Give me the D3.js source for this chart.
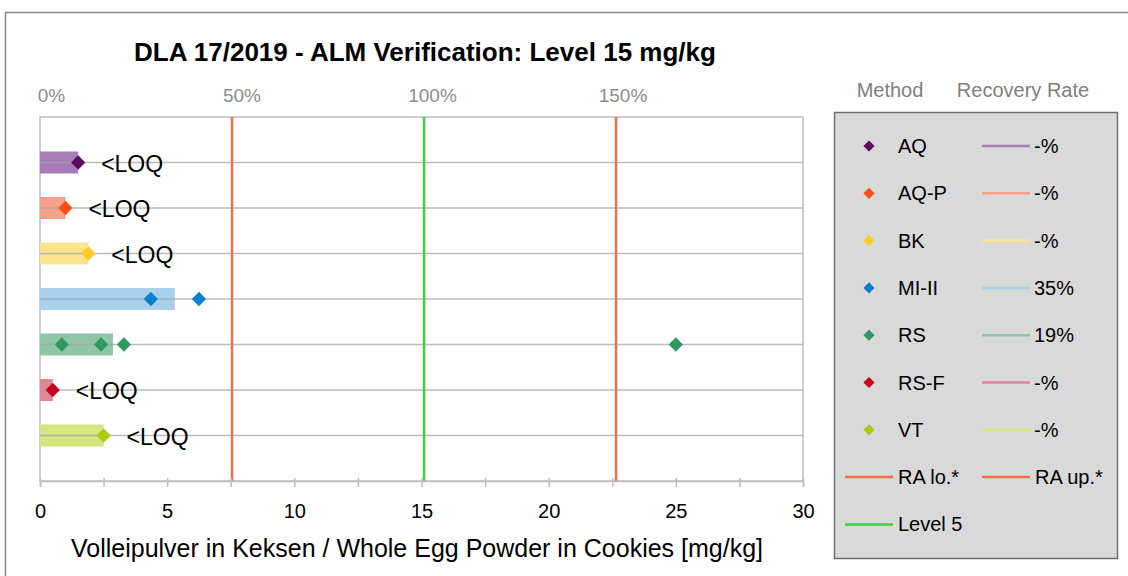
<!DOCTYPE html>
<html>
<head>
<meta charset="utf-8">
<script src="https://cdn.jsdelivr.net/npm/d3@7"></script>
<style>
  body { margin: 0; background: #fff; }
  svg { font-family: "Liberation Sans", Arial, sans-serif; display: block; }
</style>
</head>
<body>
<div id="chart"></div>
<script>
var methods = ['AQ', 'AQ-P', 'BK', 'MI-II', 'RS', 'RS-F', 'VT'];
var medians = [1.5, 1.0, 1.9, 5.3, 2.87, 0.5, 2.5];
var results = [[1.5], [1.0], [1.9], [4.36, 6.25], [0.86, 2.4, 3.3, 25.0], [0.5], [2.5]];
var loqLabels = ['<LOQ', '<LOQ', '<LOQ', '', '', '<LOQ', '<LOQ'];
var recovery = ['-%', '-%', '-%', '35%', '19%', '-%', '-%'];
var barColors = ['#a87cb6', '#f9a088', '#fde290', '#a8d0ec', '#8fc6a6', '#df8792', '#d4e67e'];
var markColors = ['#5e0c61', '#fb4f14', '#ffcb2b', '#0b80d1', '#2f9a63', '#c8021f', '#a9cd13'];

var level = 15.1;
var raLow = 7.55;
var raUp = 22.65;
var pctTicks = [0, 50, 100, 150];
var xTicks = [0, 2.5, 5, 7.5, 10, 12.5, 15, 17.5, 20, 22.5, 25, 27.5, 30];
var xLabels = [0, 5, 10, 15, 20, 25, 30];

var width = 1128, height = 576;
var plot = {left: 40, right: 803, top: 117, bottom: 481};

var svg = d3.select('#chart')
	.append('svg')
	.attr('width', width)
	.attr('height', height);

// outer frame (right and bottom edges run off the picture)
svg.append('rect')
	.attr('x', 5.5).attr('y', 12.5)
	.attr('width', 1200).attr('height', 700)
	.attr('fill', 'none')
	.attr('stroke', '#8a8a8a')
	.attr('stroke-width', 1.5);

svg.append('text')
	.attr('x', 425).attr('y', 61)
	.attr('text-anchor', 'middle')
	.attr('font-size', 26).attr('font-weight', 'bold')
	.attr('fill', '#000')
	.text('DLA 17/2019 - ALM Verification: Level 15 mg/kg');

// scales
var x = d3.scaleLinear().domain([0, 30]).range([plot.left, plot.right]);
var y = d3.scalePoint().domain(methods).range([plot.top, plot.bottom]).padding(1);
var pct = d3.scaleLinear().domain([0, 200]).range([plot.left + 11, plot.right + 10]);

// plot frame
svg.append('rect')
	.attr('x', plot.left).attr('y', plot.top)
	.attr('width', plot.right - plot.left).attr('height', plot.bottom - plot.top)
	.attr('fill', 'none')
	.attr('stroke', '#bfbfbf')
	.attr('stroke-width', 1.5);

// bars (median)
svg.append('g')
	.selectAll('rect')
	.data(methods)
	.enter()
	.append('rect')
	.attr('x', x(0))
	.attr('y', function(d){ return y(d) - 11; })
	.attr('width', function(d, i){ return x(medians[i]) - x(0); })
	.attr('height', 22)
	.attr('fill', function(d, i){ return barColors[i]; });

// row lines
svg.append('g')
	.selectAll('line')
	.data(methods)
	.enter()
	.append('line')
	.attr('x1', plot.left).attr('x2', plot.right)
	.attr('y1', function(d){ return y(d); })
	.attr('y2', function(d){ return y(d); })
	.attr('stroke', '#a6a6a6')
	.attr('stroke-opacity', 0.75)
	.attr('stroke-width', 1.5);

// reference lines
var refs = [[raLow, '#f26f48'], [level, '#3fcf3f'], [raUp, '#f26f48']];
svg.append('g')
	.selectAll('line')
	.data(refs)
	.enter()
	.append('line')
	.attr('x1', function(d){ return x(d[0]); })
	.attr('x2', function(d){ return x(d[0]); })
	.attr('y1', plot.top).attr('y2', plot.bottom)
	.attr('stroke', function(d){ return d[1]; })
	.attr('stroke-width', 2.5);

// bottom axis
var xAxis = d3.axisBottom(x)
	.tickValues(xTicks)
	.tickSize(6)
	.tickFormat(function(d){ return xLabels.indexOf(d) >= 0 ? d : ''; });

var gx = svg.append('g')
	.attr('transform', 'translate(0,' + plot.bottom + ')')
	.call(xAxis);
gx.select('.domain').attr('stroke', '#bfbfbf').attr('stroke-width', 1.5);
gx.selectAll('.tick line').attr('stroke', '#bfbfbf').attr('stroke-width', 1.5).attr('y1', -3);
gx.selectAll('.tick text')
	.attr('font-family', '"Liberation Sans", Arial, sans-serif')
	.attr('font-size', 20).attr('fill', '#000').attr('dy', null).attr('y', 37);

svg.append('text')
	.attr('x', 417).attr('y', 557)
	.attr('text-anchor', 'middle')
	.attr('font-size', 25)
	.attr('fill', '#000')
	.text('Volleipulver in Keksen / Whole Egg Powder in Cookies [mg/kg]');

// top percent axis
var pctAxis = d3.axisTop(pct)
	.tickValues(pctTicks)
	.tickSize(0)
	.tickFormat(function(d){ return d + '%'; });
var gp = svg.append('g')
	.attr('transform', 'translate(0,102)')
	.call(pctAxis);
gp.select('.domain').remove();
gp.selectAll('.tick text')
	.attr('font-family', '"Liberation Sans", Arial, sans-serif')
	.attr('font-size', 19).attr('fill', '#8c8c8c').attr('y', 0).attr('dy', null);

// result markers
var points = [];
results.forEach(function(vals, i){
	vals.forEach(function(v){ points.push({m: methods[i], v: v, i: i}); });
});
var diamond = d3.symbol().type(d3.symbolDiamond2).size(130);
svg.append('g')
	.selectAll('path')
	.data(points)
	.enter()
	.append('path')
	.attr('d', diamond)
	.attr('transform', function(d){ return 'translate(' + x(d.v) + ',' + y(d.m) + ')'; })
	.attr('fill', function(d){ return markColors[d.i]; });

// <LOQ labels
svg.append('g')
	.selectAll('text')
	.data(methods)
	.enter()
	.append('text')
	.attr('x', function(d, i){ return x(medians[i]) + 23; })
	.attr('y', function(d){ return y(d) + 9; })
	.attr('font-size', 23)
	.attr('fill', '#000')
	.text(function(d, i){ return loqLabels[i]; });

// legend
var lg = svg.append('g');
lg.append('text').attr('x', 890).attr('y', 97).attr('text-anchor', 'middle')
	.attr('font-size', 20).attr('fill', '#808080').text('Method');
lg.append('text').attr('x', 1023).attr('y', 97).attr('text-anchor', 'middle')
	.attr('font-size', 20).attr('fill', '#808080').text('Recovery Rate');
lg.append('rect')
	.attr('x', 834.5).attr('y', 112.5)
	.attr('width', 283).attr('height', 446)
	.attr('fill', '#d9d9d9')
	.attr('stroke', '#6f6f6f')
	.attr('stroke-width', 1.5);

var ly = d3.scaleLinear().domain([0, 1]).range([146, 193.3]);
var rows = lg.selectAll('g.row')
	.data(methods)
	.enter()
	.append('g')
	.attr('class', 'row')
	.attr('transform', function(d, i){ return 'translate(0,' + ly(i) + ')'; });
rows.append('path')
	.attr('d', d3.symbol().type(d3.symbolDiamond2).size(80))
	.attr('transform', 'translate(869,0)')
	.attr('fill', function(d, i){ return markColors[i]; });
rows.append('text')
	.attr('x', 898).attr('y', 7)
	.attr('font-size', 20).attr('fill', '#000')
	.text(function(d){ return d; });
rows.append('line')
	.attr('x1', 982).attr('x2', 1030).attr('y1', 0).attr('y2', 0)
	.attr('stroke', function(d, i){ return barColors[i]; })
	.attr('stroke-width', 2.5);
rows.append('text')
	.attr('x', 1034).attr('y', 7)
	.attr('font-size', 20).attr('fill', '#000')
	.text(function(d, i){ return recovery[i]; });

var refLegend = [
	{label: 'RA lo.*', color: '#f26f48', x: 845, row: 7},
	{label: 'RA up.*', color: '#f26f48', x: 982, row: 7},
	{label: 'Level 5', color: '#3fcf3f', x: 845, row: 8}
];
var rl = lg.selectAll('g.ref')
	.data(refLegend)
	.enter()
	.append('g')
	.attr('class', 'ref')
	.attr('transform', function(d){ return 'translate(' + d.x + ',' + ly(d.row) + ')'; });
rl.append('line')
	.attr('x1', 0).attr('x2', 48).attr('y1', 0).attr('y2', 0)
	.attr('stroke', function(d){ return d.color; })
	.attr('stroke-width', 2.5);
rl.append('text')
	.attr('x', 53).attr('y', 7)
	.attr('font-size', 20).attr('fill', '#000')
	.text(function(d){ return d.label; });
</script>
</body>
</html>
